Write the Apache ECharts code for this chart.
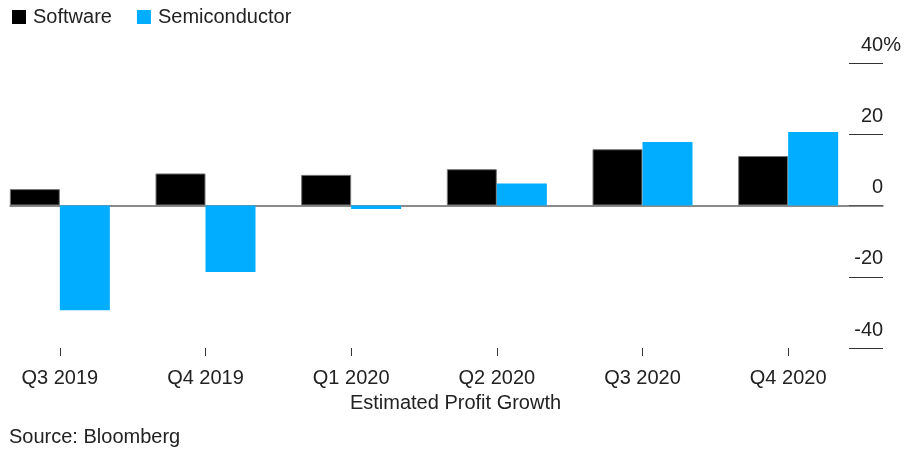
<!DOCTYPE html>
<html>
<head>
<meta charset="utf-8">
<script src="https://cdn.jsdelivr.net/npm/echarts@6/dist/echarts.min.js"></script>
<style>
  html, body { margin: 0; padding: 0; background: #fff; }
  #main { width: 911px; height: 459px; }
</style>
</head>
<body>
<div id="main"></div>
<script>
var quarters = ['Q3 2019', 'Q4 2019', 'Q1 2020', 'Q2 2020', 'Q3 2020', 'Q4 2020'];
var software = [4.6, 9.0, 8.6, 10.2, 15.8, 13.9];
var semiconductor = [-29.4, -18.7, -1.0, 6.2, 17.8, 20.6];
var yTicks = [-40, -20, 0, 20, 40];

var font = 'Liberation Sans, Arial, sans-serif';
var chart = echarts.init(document.getElementById('main'));

var option = {
  animation: false,
  textStyle: { fontFamily: font },
  legend: {
    left: 7, top: 2,
    itemWidth: 14, itemHeight: 14, itemGap: 25,
    icon: 'rect',
    itemStyle: { borderWidth: 0 },
    textStyle: { fontSize: 20, color: '#222', padding: [0, 0, 0, 2] },
    data: ['Software', 'Semiconductor']
  },
  title: [
    { text: 'Estimated Profit Growth', left: 'center', top: 388,
      textStyle: { fontSize: 20, fontWeight: 'normal', color: '#222', fontFamily: font } },
    { text: 'Source: Bloomberg', left: 4, top: 422,
      textStyle: { fontSize: 20, fontWeight: 'normal', color: '#222', fontFamily: font } }
  ],
  grid: [
    // bars
    { left: -13, right: 50, top: 63, bottom: 111, outerBoundsMode: 'none', containLabel: false },
    // zero line
    { left: 10, right: 28, top: 63, bottom: 111, outerBoundsMode: 'none' },
    // right axis labels + short gridlines
    { left: 849, right: 28, top: 63, bottom: 111, outerBoundsMode: 'none' }
  ],
  xAxis: [
    { type: 'category', gridIndex: 0, data: quarters,
      axisLine: { show: false, onZero: false },
      axisTick: { show: true, alignWithLabel: true, length: 8, lineStyle: { color: '#333' } },
      axisLabel: { fontSize: 20, color: '#222', margin: 20 } },
    { type: 'value', gridIndex: 1, min: 0, max: 1,
      axisLine: { show: true, onZero: true, lineStyle: { color: '#666', width: 1.5 } },
      axisTick: { show: false }, axisLabel: { show: false }, splitLine: { show: false } },
    { type: 'value', gridIndex: 2, min: 0, max: 1, show: false }
  ],
  yAxis: [
    { type: 'value', gridIndex: 0, min: -40, max: 40, interval: 20, show: false },
    { type: 'value', gridIndex: 1, min: -40, max: 40, interval: 20,
      axisLine: { show: false }, axisTick: { show: false },
      axisLabel: { show: false }, splitLine: { show: false } },
    { type: 'value', gridIndex: 2, position: 'right', min: yTicks[0], max: yTicks[yTicks.length - 1], interval: 20,
      axisLine: { show: false }, axisTick: { show: false },
      splitLine: { show: true, lineStyle: { color: '#333', width: 1.2 } },
      axisLabel: {
        margin: 18, align: 'right', verticalAlign: 'bottom', padding: [0, 0, 8, 0],
        fontSize: 20, color: '#222',
        formatter: function (v) {
          return v === 40 ? v + '{p|%}' : v + '{h|%}';
        },
        rich: {
          p: { fontSize: 20, color: '#222' },
          h: { fontSize: 20, color: 'rgba(0,0,0,0)' }
        }
      } }
  ],
  series: [
    { name: 'Software', type: 'bar', xAxisIndex: 0, yAxisIndex: 0,
      data: software, barWidth: 50, barGap: '0%',
      itemStyle: { color: '#000', borderColor: '#777', borderWidth: 1 } },
    { name: 'Semiconductor', type: 'bar', xAxisIndex: 0, yAxisIndex: 0,
      data: semiconductor, barWidth: 50, barGap: '0%',
      itemStyle: { color: '#00adfe' } }
  ]
};

chart.setOption(option);
</script>
</body>
</html>
